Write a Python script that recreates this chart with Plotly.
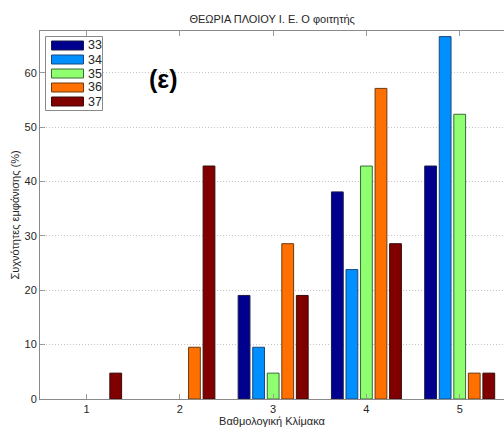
import plotly.graph_objects as go

categories = [1, 2, 3, 4, 5]
series_names = ["33", "34", "35", "36", "37"]
values_33 = [0, 0, 19.05, 38.10, 42.86]
values_34 = [0, 0, 9.52, 23.81, 66.67]
values_35 = [0, 0, 4.76, 42.86, 52.38]
values_36 = [0, 9.52, 28.57, 57.14, 4.76]
values_37 = [4.76, 42.86, 19.05, 28.57, 4.76]
y_ticks = [0, 10, 20, 30, 40, 50, 60]

colors = ["#00008F", "#008FFF", "#8FFF70", "#FF7000", "#800000"]
edges = ["#1a1a4a", "#1a4a7a", "#3a6a3a", "#6a3a10", "#3a0a0a"]
all_values = [values_33, values_34, values_35, values_36, values_37]

W, H = 504, 428
ML, MR, MT, MB = 40, 0, 31, 29
PW, PH = W - ML - MR, H - MT - MB

fig = go.Figure()
for name, vals, c, e in zip(series_names, all_values, colors, edges):
    fig.add_trace(go.Bar(
        x=categories, y=vals, name=name, showlegend=False,
        marker=dict(color=c, line=dict(color=e, width=[0 if v == 0 else 1 for v in vals])),
    ))

font_family = "Liberation Sans, Arial, sans-serif"

def dx(px):
    return (px - ML) / PW

def dy(py):
    return 1 - (py - MT) / PH

shapes = [dict(type="rect", xref="x domain", yref="y domain",
               x0=dx(45.5), x1=dx(102.5), y0=dy(110.5), y1=dy(36.5),
               line=dict(color="#8a8a8a", width=1), fillcolor="white", layer="above")]
annotations = []
for i, (name, c, e) in enumerate(zip(series_names, colors, edges)):
    top = 41 + 14 * i
    shapes.append(dict(type="rect", xref="x domain", yref="y domain",
                       x0=dx(51.5), x1=dx(83.5), y0=dy(top + 9), y1=dy(top),
                       line=dict(color=e, width=1), fillcolor=c, layer="above"))
    annotations.append(dict(text=name, xref="x domain", yref="y domain",
                            x=dx(86), y=dy(top + 4.5), xanchor="left", yanchor="middle",
                            showarrow=False, font=dict(size=12.5, color="#262626", family=font_family)))

annotations.append(dict(text="<b>(ε)</b>", x=dx(163), y=dy(79), xref="x domain", yref="y domain",
                        xanchor="center", yanchor="middle",
                        showarrow=False, font=dict(size=25, color="black", family=font_family)))

fig.update_layout(
    width=W, height=H,
    margin=dict(l=ML, r=MR, t=MT, b=MB),
    paper_bgcolor="white", plot_bgcolor="white",
    barmode="group", bargap=0.22, bargroupgap=0.19,
    font=dict(family=font_family, size=11, color="#262626"),
    title=dict(text="ΘΕΩΡΙΑ ΠΛΟΙΟΥ Ι. Ε. Ο φοιτητής", x=0.54, xanchor="center",
               y=1 - 19 / H, yanchor="middle", font=dict(size=11, color="#262626")),
    showlegend=False,
    xaxis=dict(range=[0.5, 5.475], tickvals=categories, ticktext=[str(c) for c in categories],
               ticks="inside", ticklen=5, tickcolor="#9a9a9a",
               showline=True, linecolor="#8a8a8a", linewidth=1, mirror="ticks",
               showgrid=False, zeroline=False,
               title=dict(text="Βαθμολογική Κλίμακα", standoff=2, font=dict(size=11)),
               tickfont=dict(size=11)),
    yaxis=dict(range=[0, 67.7], tickvals=y_ticks,
               ticks="inside", ticklen=5, tickcolor="#9a9a9a",
               showline=True, linecolor="#8a8a8a", linewidth=1,
               showgrid=True, gridcolor="#c4c4c4", griddash="1px,2px", gridwidth=1,
               zeroline=False,
               title=dict(text="Συχνότητες εμφάνισης (%)", standoff=2, font=dict(size=11)),
               tickfont=dict(size=11)),
    shapes=shapes,
    annotations=annotations,
)

fig.write_html("out.html", config={"displayModeBar": False},
               post_script="document.body.style.margin='0';document.body.style.overflow='hidden';")
